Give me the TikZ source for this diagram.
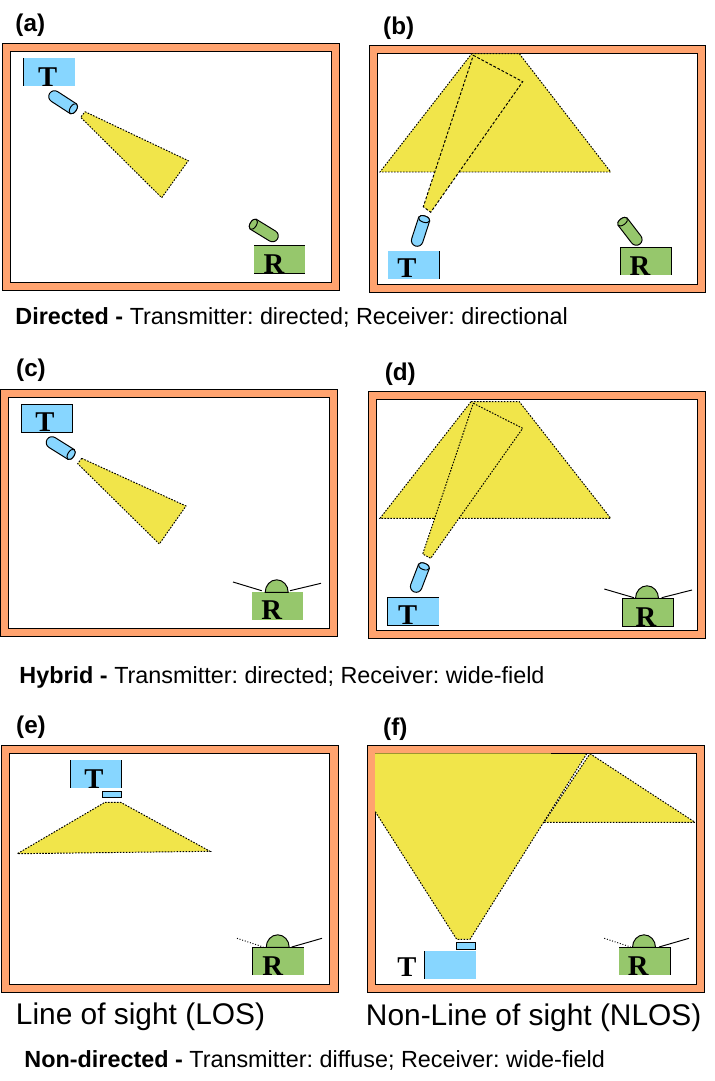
\documentclass[tikz,border=0pt]{standalone}
\usepackage{fontspec}
\setmainfont{Liberation Sans}
\newfontfamily\lettfont{Liberation Serif}
\usetikzlibrary{positioning}
\definecolor{frameorange}{HTML}{FFA36F}
\definecolor{txblue}{HTML}{87D6FF}
\definecolor{rxgreen}{HTML}{96C76C}
\definecolor{beamyellow}{HTML}{F1E54A}
\frenchspacing

\begin{document}
\begin{tikzpicture}[
      x=0.02cm, y=-0.02cm, line width=0.55pt,
      every node/.style={inner sep=0pt, anchor=base west},
      outerframe/.style={draw, fill=frameorange},
      innerframe/.style={draw, fill=white},
      beam/.style={fill=beamyellow, draw, dash pattern=on 0.9pt off 0.8pt},
      narrowbeam/.style={fill=beamyellow, draw, dash pattern=on 1.6pt off 1pt},
      beamfill/.style={fill=beamyellow},
      beamedge/.style={draw, dash pattern=on 0.9pt off 0.8pt},
      txbox/.style={fill=txblue},
      rxbox/.style={fill=rxgreen},
      panel/.style={font=\fontsize{13.8}{16}\selectfont\bfseries},
      caption/.style={font=\fontsize{13.3}{16}\selectfont},
      bigcaption/.style={font=\fontsize{17}{20}\selectfont},
      letter/.style={font=\fontsize{16.3}{18}\selectfont\lettfont\bfseries, anchor=base},
      pics/tube/.style 2 args={code={
        \draw[fill=#1, y=0.02cm] (0,5.8) -- (#2,5.8)
          arc[start angle=90, end angle=-90, x radius=3.2, y radius=5.8]
          -- (0,-5.8) arc[start angle=-90, end angle=-270, radius=5.8] -- cycle;
        \draw[fill=#1, y=0.02cm] (#2,0) ellipse[x radius=3.2, y radius=5.8];
      }},
      pics/dome/.style={code={
        \draw[fill=rxgreen, y=0.02cm] (-11.5,0)
          arc[start angle=180, end angle=0, x radius=11.5, y radius=12.5] -- cycle;
      }},
    ]
    \useasboundingbox (0,0) rectangle (714,1081);

    % (a)
    \node[panel] (labelA) at (15,31.5) {(a)};
    \draw[outerframe] (2.7,43.3) rectangle (339.3,290.3);
    \draw[innerframe] (10.3,51.3) rectangle (331.7,282.3);
    \fill[txbox] (23.3,58) rectangle (75,85.7);
    \draw (23.3,58) -- (23.3,85.7);
    \node[letter] (txA) at (47.7,87) {T};
    \pic[rotate=-33] at (54.5,96.5) {tube={txblue}{22.5}};
    \path[beam] (85,111.7) -- (188.3,160.7) -- (161.7,197.7) -- (80.7,117.3) -- cycle;
    \fill[rxbox] (254,245.3) rectangle (305,273.7);
    \draw (254,245.3) -- (305,245.3) (254,273.7) -- (305,273.7);
    \node[letter] (rxA) at (274,273.7) {R};
    \pic[rotate=148.5] at (272.5,236) {tube={rxgreen}{22.5}};

    % (b)
    \node[panel] (labelB) at (382.7,35) {(b)};
    \draw[outerframe] (369.3,45.7) rectangle (705.3,292.3);
    \draw[innerframe] (377.3,53.7) rectangle (697.7,284.3);
    \path[beam] (471.7,53.7) -- (519.3,53.7) -- (610.7,172) -- (380,172) -- cycle;
    \path[narrowbeam] (473.3,55.3) -- (522.7,81.7) -- (430.7,212.3) -- (423.3,206.7) -- cycle;
    \fill[txbox] (388,251) rectangle (439.7,278.7);
    \draw (439.7,251) -- (439.7,278.7);
    \node[letter] (txB) at (407,277) {T};
    \pic[rotate=72] at (417.2,240.5) {tube={txblue}{22.5}};
    \fill[rxbox] (620.3,247.3) rectangle (671.7,275);
    \draw (620.3,275) -- (620.3,247.3) -- (671.7,247.3) -- (671.7,275);
    \node[letter] (rxB) at (640,275) {R};
    \pic[rotate=127.5] at (636.3,239.5) {tube={rxgreen}{22.5}};

    \node[caption] (capAB) at (15,324)
      {\textbf{Directed -} Transmitter: directed; Receiver: directional};

    % (c)
    \node[panel] (labelC) at (15.7,376.7) {(c)};
    \draw[outerframe] (0.7,389.3) rectangle (337.7,636.3);
    \draw[innerframe] (8.3,397.3) rectangle (329.7,628.3);
    \draw[txbox] (21.3,404.3) rectangle (72.7,432.3);
    \node[letter] (txC) at (45,431.7) {T};
    \pic[rotate=-32] at (52,442.5) {tube={txblue}{22.5}};
    \path[beam] (81.7,458.3) -- (186,506) -- (159.3,544) -- (77.7,463.7) -- cycle;
    \fill[rxbox] (252,592) rectangle (303,619.7);
    \node[letter] (rxC) at (271.7,619.3) {R};
    \pic at (276.7,592.3) {dome};
    \draw (233,582) -- (261.7,590.7) (290,590.7) -- (321,583.3);

    % (d)
    \node[panel] (labelD) at (384.3,380) {(d)};
    \draw[outerframe] (368.3,391.7) rectangle (705.7,638.3);
    \draw[innerframe] (376.3,399.7) rectangle (697.7,630.3);
    \path[beam] (471,401.7) -- (519.3,401.7) -- (610.7,518.3) -- (380,518.3) -- cycle;
    \path[beam] (473.3,403.3) -- (522.7,428.3) -- (430.7,558.3) -- (422.7,554) -- cycle;
    \fill[txbox] (387.3,597.3) rectangle (439,625.7);
    \draw (439,597.3) -- (387.3,597.3) -- (387.3,625.7) -- (439,625.7);
    \node[letter] (txD) at (407.7,624.3) {T};
    \pic[rotate=69] at (416.2,586.5) {tube={txblue}{21.5}};
    \draw[rxbox] (622.3,598.3) rectangle (673.7,626.3);
    \node[letter] (rxD) at (646,626.3) {R};
    \pic at (647,598.3) {dome};
    \draw (604.3,589) -- (634,597.7) (661.7,597.7) -- (692,590);

    \node[caption] (capCD) at (19,683.3)
      {\textbf{Hybrid -} Transmitter: directed; Receiver: wide-field};

    % (e)
    \node[panel] (labelE) at (15.7,733.3) {(e)};
    \draw[outerframe] (1.3,745.7) rectangle (338.7,992.3);
    \draw[innerframe] (9.3,753.7) rectangle (329.7,984.3);
    \fill[txbox] (70.3,760) rectangle (121.7,788);
    \draw (70.3,760) -- (70.3,788) (121.7,760) -- (121.7,788);
    \node[letter] (txE) at (94,788) {T};
    \draw[txbox] (102.3,791.3) rectangle (121.7,797.7);
    \path[beam] (105,802.3) -- (120.7,802.3) -- (210,851.3) -- (17.3,853.7) -- cycle;
    \fill[rxbox] (252.3,947.3) rectangle (304,975);
    \draw (252.3,975) -- (252.3,947.3) -- (304,947.3);
    \node[letter] (rxE) at (272.7,975) {R};
    \pic at (277.7,947.3) {dome};
    \draw[densely dotted] (237,938.3) -- (263.3,947);
    \draw (291.7,947) -- (322,938.3);
    \node[bigcaption] (capE) at (15.5,1024) {Line of sight (LOS)};

    % (f)
    \node[panel] (labelF) at (382.7,735) {(f)};
    \draw[outerframe] (367.3,745.7) rectangle (704.7,992.3);
    \draw[innerframe] (375.3,753.7) rectangle (696.7,984.3);
    \path[beam] (590,753.7) -- (695,822.3) -- (544,822.3) -- cycle;
    \fill[beamfill] (375,753.4) -- (586.7,753.4) -- (470,939.3) -- (456.7,939.3) -- (375,811.7) -- cycle;
    \draw[beamedge] (375.3,811.7) -- (456.7,939.3) -- (470,939.3) -- (586.7,753.7);
    \draw (550.7,753.7) -- (586.7,753.7);
    \draw[txbox] (456.3,942.3) rectangle (475.7,949.3);
    \fill[txbox] (424.3,951) rectangle (476,978.7);
    \draw (424.3,951) -- (424.3,978.7);
    \node[letter] (txF) at (407,976) {T};
    \fill[rxbox] (619,947.3) rectangle (670.7,975);
    \draw (619,947.3) -- (670.7,947.3) -- (670.7,975);
    \node[letter] (rxF) at (638.3,975) {R};
    \pic at (644,947.3) {dome};
    \draw[densely dotted] (604.3,938.3) -- (630.7,947);
    \draw (659,947) -- (689,938.3);
    \node[bigcaption] (capF) at (365.5,1025) {Non-Line of sight (NLOS)};

    \node[caption] (capEF) at (24,1067.7)
      {\textbf{Non-directed -} Transmitter: diffuse; Receiver: wide-field};
  \end{tikzpicture}
\end{document}
